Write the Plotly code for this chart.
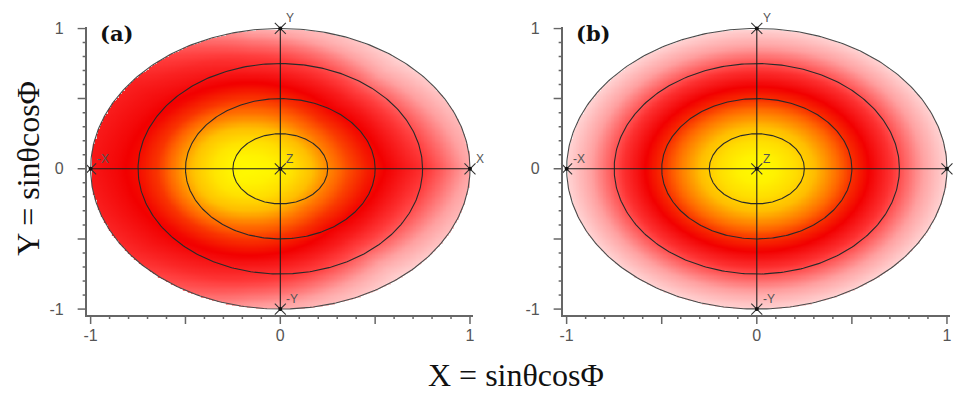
import numpy as np
import plotly.graph_objects as go

# ---------------- data ----------------
# panel (b): azimuthally symmetric normalised intensity vs. sin(theta)
b_radius = [0.0, 0.1, 0.2, 0.3, 0.4, 0.5, 0.6, 0.7, 0.8, 0.9, 1.0]
b_level = [1.0, 0.98, 0.93, 0.85, 0.74, 0.62, 0.54, 0.47, 0.37, 0.27, 0.18]

# panel (a): lobe centred off-axis; intensity along eight azimuths
# measured from the lobe centre
a_center = (-0.15, 0.0)
a_radius = [0.0, 0.1, 0.2, 0.3, 0.4, 0.5, 0.6, 0.7, 0.8, 0.9, 1.0, 1.1, 1.2]
a_phi = [0, 45, 90, 135, 180, 225, 270, 315]
a_level_0 = [1.0, 0.99, 0.95, 0.87, 0.76, 0.67, 0.60, 0.55, 0.51, 0.47, 0.40, 0.32, 0.25]
a_level_45 = [1.0, 0.98, 0.93, 0.84, 0.72, 0.62, 0.55, 0.50, 0.43, 0.34, 0.25, 0.18, 0.14]
a_level_90 = [1.0, 0.98, 0.93, 0.84, 0.72, 0.63, 0.56, 0.50, 0.45, 0.37, 0.27, 0.21, 0.18]
a_level_135 = [1.0, 0.99, 0.95, 0.87, 0.75, 0.63, 0.56, 0.53, 0.51, 0.49, 0.47, 0.45, 0.43]
a_level_180 = [1.0, 0.99, 0.95, 0.87, 0.75, 0.63, 0.57, 0.54, 0.52, 0.50, 0.49, 0.48, 0.47]
a_level_225 = [1.0, 0.99, 0.95, 0.87, 0.75, 0.63, 0.56, 0.53, 0.50, 0.47, 0.44, 0.41, 0.38]
a_level_270 = [1.0, 0.98, 0.93, 0.84, 0.72, 0.63, 0.56, 0.50, 0.45, 0.37, 0.28, 0.22, 0.18]
a_level_315 = [1.0, 0.98, 0.93, 0.84, 0.72, 0.62, 0.55, 0.50, 0.43, 0.34, 0.25, 0.18, 0.14]

# reference rings and direction markers
ring_radii = [0.25, 0.5, 0.75, 1.0]
dir_x = [-1, 1, 0, 0, 0]
dir_y = [0, 0, 1, -1, 0]
dir_labels = ["-X", "X", "Y", "-Y", "Z"]
# the +X label of the right-hand panel runs off the page edge
labels_shown = [[True, True, True, True, True],
                [True, False, True, True, True]]

panel_names = ["(a)", "(b)"]

# axis ticks: every 0.1, labelled at -1, 0, 1, longer at multiples of 0.5
label_vals = [-1, 0, 1]
label_text = ["-1", "0", "1"]
tick_vals = [-1.0, -0.9, -0.8, -0.7, -0.6, -0.5, -0.4, -0.3, -0.2, -0.1,
             0.0, 0.1, 0.2, 0.3, 0.4, 0.5, 0.6, 0.7, 0.8, 0.9, 1.0]
long_ticks = [-1.0, -0.5, 0.0, 0.5, 1.0]

# ---------------- intensity tables ----------------
n = 241
gx = np.linspace(-1, 1, n)
gy = np.linspace(-1, 1, n)
GX, GY = np.meshgrid(gx, gy)
outside = np.hypot(GX, GY) > 1.0

z_b = np.interp(np.hypot(GX, GY), b_radius, b_level)
z_b[outside] = np.nan

DX, DY = GX - a_center[0], GY - a_center[1]
RA = np.hypot(DX, DY)
PA = np.degrees(np.arctan2(DY, DX)) % 360
a_levels = [a_level_0, a_level_45, a_level_90, a_level_135,
            a_level_180, a_level_225, a_level_270, a_level_315]
prof = np.stack([np.interp(RA, a_radius, lv) for lv in a_levels])
step = a_phi[1] - a_phi[0]
pos = PA / step
k0 = np.floor(pos).astype(int) % len(a_phi)
k1 = (k0 + 1) % len(a_phi)
w = pos - np.floor(pos)
rows, cols = np.indices(RA.shape)
z_a = prof[k0, rows, cols] * (1 - w) + prof[k1, rows, cols] * w
z_a[outside] = np.nan

colorscale = [
    [0.00, "rgb(255,255,255)"],
    [0.15, "rgb(255,225,225)"],
    [0.30, "rgb(255,160,160)"],
    [0.45, "rgb(255,60,60)"],
    [0.55, "rgb(242,0,0)"],
    [0.70, "rgb(255,100,0)"],
    [0.85, "rgb(255,190,0)"],
    [1.00, "rgb(255,250,0)"],
]

# ---------------- figure ----------------
W, H = 953, 394
x_dom = [[84 / W, 472 / W], [562 / W, 951 / W]]
y_dom = [(H - 316) / H, (H - 21) / H]
x_rng = [-1.021, 1.016]
y_rng = [-1.042, 1.007]
axis_grey = "#666666"

fig = go.Figure()
t = np.linspace(0, 2 * np.pi, 361)

for i, z in enumerate([z_a, z_b]):
    xa = "x" if i == 0 else "x2"
    ya = "y" if i == 0 else "y2"
    fig.add_trace(go.Heatmap(
        x=gx, y=gy, z=z, colorscale=colorscale, zmin=0, zmax=1,
        zsmooth="best", showscale=False, hoverinfo="skip",
        xaxis=xa, yaxis=ya))
    for r in ring_radii:
        fig.add_trace(go.Scatter(
            x=r * np.cos(t), y=r * np.sin(t), mode="lines",
            line=dict(color="#2a2a2a" if r < 1 else "#4a4a4a", width=1.1),
            hoverinfo="skip", showlegend=False, xaxis=xa, yaxis=ya))
    # cross-hair through the origin
    fig.add_trace(go.Scatter(
        x=[dir_x[0], dir_x[1], None, dir_x[2], dir_x[3]],
        y=[dir_y[0], dir_y[1], None, dir_y[2], dir_y[3]],
        mode="lines", line=dict(color="#1e1e1e", width=1.1),
        hoverinfo="skip", showlegend=False, xaxis=xa, yaxis=ya))
    fig.add_trace(go.Scatter(
        x=dir_x, y=dir_y, mode="markers",
        marker=dict(symbol="x-thin", size=11,
                    line=dict(color="#333333", width=1.1)),
        cliponaxis=False, hoverinfo="skip", showlegend=False,
        xaxis=xa, yaxis=ya))
    fig.add_trace(go.Scatter(
        x=dir_x, y=dir_y, mode="markers",
        marker=dict(symbol="circle", size=4, color="#111111"),
        cliponaxis=False, hoverinfo="skip", showlegend=False,
        xaxis=xa, yaxis=ya))
    for lx, ly, lab, show in zip(dir_x, dir_y, dir_labels, labels_shown[i]):
        if not show:
            continue
        fig.add_annotation(
            x=lx, y=ly, xref=xa, yref=ya, text=lab, showarrow=False,
            xanchor="left", yanchor="bottom", xshift=4, yshift=1,
            font=dict(family="Arial, Liberation Sans", size=12, color="#555555"))
    fig.add_annotation(
        x=-0.963, y=0.965, xref=xa, yref=ya, text="<b>%s</b>" % panel_names[i],
        showarrow=False, xanchor="left", yanchor="middle",
        font=dict(family="DejaVu Serif", size=21, color="#111111"))

    # outward tick marks every 0.1 (longer at multiples of 0.5)
    for v in tick_vals:
        tl = 9 if v in long_ticks else 4
        fig.add_shape(type="line", xref=xa, yref="paper",
                      x0=v, x1=v, ysizemode="pixel", yanchor=y_dom[0],
                      y0=0, y1=-tl, layer="above",
                      line=dict(color=axis_grey, width=1.5))
        fig.add_shape(type="line", xref="paper", yref=ya,
                      y0=v, y1=v, xsizemode="pixel", xanchor=x_dom[i][0],
                      x0=0, x1=-tl, layer="above",
                      line=dict(color=axis_grey, width=1.5))

axis_style = dict(
    showgrid=False, zeroline=False, showline=True, linecolor=axis_grey,
    linewidth=1.5, ticks="", tickmode="array", tickvals=label_vals,
    ticktext=label_text,
    tickfont=dict(family="Arial, Liberation Sans", size=16, color="#555555"),
    fixedrange=True,
)

fig.update_layout(
    width=W, height=H, margin=dict(l=0, r=0, t=0, b=0),
    paper_bgcolor="white", plot_bgcolor="white", showlegend=False,
    xaxis=dict(domain=x_dom[0], range=x_rng, anchor="y",
               ticklabelstandoff=5, **axis_style),
    yaxis=dict(domain=y_dom, range=y_rng, anchor="x",
               ticklabelstandoff=18, **axis_style),
    xaxis2=dict(domain=x_dom[1], range=x_rng, anchor="y2",
                ticklabelstandoff=5, **axis_style),
    yaxis2=dict(domain=y_dom, range=y_rng, anchor="x2",
                ticklabelstandoff=18, **axis_style),
)

fig.add_annotation(
    x=25 / W, y=(H - 165) / H, xref="paper", yref="paper",
    text="Y = sinθcosΦ", textangle=-90, showarrow=False,
    xanchor="center", yanchor="middle",
    font=dict(family="Liberation Serif", size=32, color="#111111"))
fig.add_annotation(
    x=515 / W, y=(H - 378) / H, xref="paper", yref="paper",
    text="X = sinθcosΦ", showarrow=False,
    xanchor="center", yanchor="middle",
    font=dict(family="Liberation Serif", size=32, color="#111111"))

fig.write_html("out.html")
